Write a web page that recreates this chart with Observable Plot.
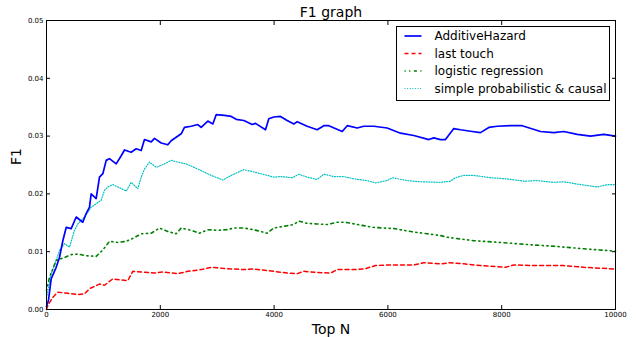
<!DOCTYPE html>
<html>
<head>
<meta charset="utf-8">
<script src="https://cdn.jsdelivr.net/npm/d3@7"></script>
<script src="https://cdn.jsdelivr.net/npm/@observablehq/plot@0.6"></script>
<style>
  html, body { margin: 0; padding: 0; background: #fff; }
  svg { font-family: "DejaVu Sans", sans-serif; }
</style>
</head>
<body>
<div id="chart"></div>
<script>
const title = "F1 graph";
const xLabel = "Top N";
const yLabel = "F1";
const xTicks = [0, 2000, 4000, 6000, 8000, 10000];
const yTicks = [0, 0.01, 0.02, 0.03, 0.04, 0.05];
const seriesNames = ["AdditiveHazard", "last touch", "logistic regression", "simple probabilistic & causal"];

const hazardN = [0, 35, 82, 170, 228, 287, 346, 434, 522, 638, 697, 756, 785, 873, 931, 990, 1049, 1107, 1225, 1313, 1371, 1488, 1576, 1664, 1722, 1840, 1898, 2015, 2132, 2191, 2279, 2367, 2425, 2543, 2659, 2718, 2835, 2923, 2982, 3128, 3246, 3334, 3468, 3615, 3673, 3849, 3907, 3995, 4112, 4230, 4347, 4406, 4581, 4757, 4874, 4962, 5197, 5285, 5461, 5576, 5752, 5987, 6221, 6455, 6719, 6807, 6924, 7012, 7158, 7276, 7481, 7627, 7774, 7921, 8155, 8360, 8682, 8916, 9092, 9327, 9561, 9794, 10000];
const hazardF1 = [0.0005, 0.0016, 0.0053, 0.0073, 0.009, 0.0119, 0.0142, 0.014, 0.016, 0.0151, 0.0166, 0.0177, 0.020, 0.0192, 0.0229, 0.0235, 0.0258, 0.0261, 0.0252, 0.0266, 0.0276, 0.0272, 0.0278, 0.0275, 0.0294, 0.029, 0.0296, 0.0288, 0.0285, 0.0292, 0.0298, 0.0304, 0.0315, 0.0317, 0.032, 0.0315, 0.0326, 0.0321, 0.0337, 0.0336, 0.0334, 0.0329, 0.0327, 0.032, 0.0322, 0.0311, 0.033, 0.0333, 0.0334, 0.0327, 0.0321, 0.0325, 0.0317, 0.0311, 0.0318, 0.0318, 0.0308, 0.0318, 0.0314, 0.0317, 0.0317, 0.0314, 0.0305, 0.0301, 0.0294, 0.0297, 0.0294, 0.0294, 0.0313, 0.0311, 0.0308, 0.0306, 0.0315, 0.0317, 0.0318, 0.0318, 0.0308, 0.0306, 0.0308, 0.0303, 0.030, 0.0303, 0.030];

const touchN = [0, 23, 111, 199, 374, 551, 668, 756, 931, 1019, 1166, 1313, 1429, 1517, 1664, 1898, 2044, 2308, 2484, 2718, 2894, 3128, 3468, 3644, 3995, 4230, 4406, 4522, 4757, 4991, 5109, 5343, 5576, 5782, 5987, 6280, 6455, 6631, 6924, 7100, 7334, 7627, 8067, 8213, 8623, 9092, 9443, 10000];
const touchF1 = [0, 0.0007, 0.0021, 0.003, 0.0028, 0.0026, 0.0027, 0.0036, 0.0044, 0.0042, 0.0053, 0.0051, 0.005, 0.0066, 0.0065, 0.0063, 0.0065, 0.0062, 0.0066, 0.0069, 0.0073, 0.0071, 0.0069, 0.007, 0.0066, 0.0063, 0.0062, 0.0066, 0.0064, 0.0063, 0.0069, 0.0069, 0.007, 0.0076, 0.0077, 0.0077, 0.0077, 0.0081, 0.0079, 0.0081, 0.0079, 0.0076, 0.0073, 0.0077, 0.0076, 0.0076, 0.0073, 0.007];

const logisticN = [0, 53, 111, 170, 316, 434, 551, 697, 873, 990, 1107, 1253, 1401, 1517, 1664, 1840, 1986, 2132, 2279, 2367, 2543, 2689, 2835, 3011, 3158, 3304, 3468, 3644, 3878, 3995, 4230, 4347, 4434, 4581, 4757, 4933, 5109, 5255, 5461, 5752, 6104, 6455, 6690, 6924, 7042, 7510, 7979, 8506, 8975, 9443, 10000];
const logisticF1 = [0.0033, 0.0056, 0.007, 0.0085, 0.009, 0.0095, 0.0096, 0.0093, 0.0092, 0.0103, 0.0118, 0.0116, 0.0118, 0.0123, 0.0131, 0.0132, 0.0141, 0.0135, 0.0131, 0.0141, 0.0137, 0.0132, 0.0138, 0.0137, 0.0138, 0.0141, 0.0141, 0.0138, 0.0132, 0.0141, 0.0145, 0.0147, 0.0153, 0.0149, 0.0148, 0.0147, 0.0151, 0.0151, 0.0147, 0.0142, 0.014, 0.0134, 0.0131, 0.0128, 0.0125, 0.0119, 0.0116, 0.0112, 0.0109, 0.0105, 0.0101];

const simpleN = [0, 82, 170, 228, 316, 404, 492, 551, 668, 785, 873, 961, 1019, 1078, 1166, 1253, 1401, 1488, 1605, 1664, 1722, 1810, 1928, 2074, 2191, 2308, 2455, 2659, 2894, 3099, 3246, 3468, 3644, 3761, 3995, 4112, 4318, 4434, 4581, 4757, 4874, 5050, 5226, 5402, 5636, 5782, 5987, 6075, 6339, 6573, 6924, 7100, 7188, 7334, 7510, 7803, 8096, 8389, 8623, 8916, 9092, 9327, 9678, 9854, 10000];
const simpleF1 = [0.002, 0.0062, 0.0085, 0.0102, 0.0114, 0.0108, 0.0137, 0.0148, 0.016, 0.0177, 0.0183, 0.0189, 0.0206, 0.0212, 0.0216, 0.0212, 0.0205, 0.022, 0.0209, 0.0229, 0.0243, 0.0255, 0.0246, 0.0252, 0.0258, 0.0255, 0.0252, 0.0243, 0.0232, 0.0224, 0.0232, 0.0242, 0.0238, 0.0235, 0.0229, 0.023, 0.0228, 0.0234, 0.0229, 0.0225, 0.0234, 0.023, 0.023, 0.0226, 0.0223, 0.0219, 0.0223, 0.0228, 0.0223, 0.0221, 0.022, 0.0222, 0.0228, 0.0232, 0.0232, 0.0228, 0.0226, 0.0222, 0.0223, 0.022, 0.0221, 0.0217, 0.0212, 0.0216, 0.0216];

const colors = ["#0000ff", "#ff0000", "#008000", "#00bfbf"];
const dashes = [null, "4,3", "1.2,3.5,1.2,3.5,3,3.5", "1,1.6"];
const widths = [1.7, 1.5, 1.6, 1.2];

const toRows = (ns, vs) => ns.map((n, i) => ({n, f1: vs[i]}));
const series = [
  toRows(hazardN, hazardF1),
  toRows(touchN, touchF1),
  toRows(logisticN, logisticF1),
  toRows(simpleN, simpleF1)
];

const lineMarks = [3, 2, 1, 0].map(i => Plot.line(series[i], {
  x: "n", y: "f1", stroke: colors[i], strokeWidth: widths[i],
  strokeDasharray: dashes[i] || undefined, curve: "linear"
}));

const chart = Plot.plot({
  width: 636,
  height: 337,
  marginLeft: 46,
  marginRight: 21,
  marginTop: 20,
  marginBottom: 28,
  style: {fontFamily: "DejaVu Sans, sans-serif", background: "#fff", color: "#000"},
  x: {domain: [0, 10000]},
  y: {domain: [0, 0.05]},
  marks: [
    ...lineMarks,
    Plot.frame({stroke: "#000", strokeWidth: 1}),
    Plot.axisX({anchor: "bottom", ticks: xTicks, tickSize: 0, tickPadding: 3, fontSize: 7, label: null, tickFormat: d => String(d)}),
    Plot.axisX({anchor: "bottom", ticks: xTicks, tickSize: -4, tickFormat: () => "", label: null}),
    Plot.axisX({anchor: "top", ticks: xTicks, tickSize: -4, tickFormat: () => "", label: null}),
    Plot.axisY({anchor: "left", ticks: yTicks, tickSize: 0, tickPadding: 3, fontSize: 7, label: null, tickFormat: d3.format(".2f")}),
    Plot.axisY({anchor: "left", ticks: yTicks, tickSize: -4, tickFormat: () => "", label: null}),
    Plot.axisY({anchor: "right", ticks: yTicks, tickSize: -4, tickFormat: () => "", label: null}),
    Plot.text([title], {frameAnchor: "top", dy: -4, lineAnchor: "bottom", fontSize: 14, fill: "#000"}),
    Plot.text([xLabel], {frameAnchor: "bottom", dy: 24, lineAnchor: "bottom", fontSize: 14, fill: "#000"}),
    Plot.text([yLabel], {frameAnchor: "left", dx: -30, rotate: -90, fontSize: 14, fill: "#000"})
  ]
});

// legend box (upper right, inside axes)
const svg = d3.select(chart);
const lg = svg.append("g").attr("transform", "translate(396.5,26.5)");
lg.append("rect").attr("x", 0).attr("y", 0).attr("width", 213).attr("height", 74)
  .attr("fill", "#fff").attr("stroke", "#000").attr("stroke-width", 1);
seriesNames.forEach((name, i) => {
  const yy = 9.5 + i * 17.5;
  lg.append("line").attr("x1", 8).attr("x2", 25).attr("y1", yy).attr("y2", yy)
    .attr("stroke", colors[i]).attr("stroke-width", widths[i])
    .attr("stroke-dasharray", dashes[i]);
  lg.append("text").attr("x", 38).attr("y", yy).attr("dy", "0.35em")
    .attr("text-anchor", "start")
    .attr("font-size", 12).attr("fill", "#000").text(name);
});

document.getElementById("chart").appendChild(chart);
</script>
</body>
</html>
